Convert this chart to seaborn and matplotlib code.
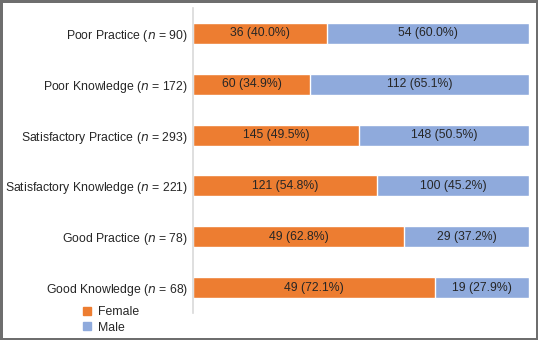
import numpy as np
import pandas as pd
import seaborn as sns
import matplotlib.pyplot as plt
from matplotlib.lines import Line2D

# ---- data ----
categories = ["Poor Practice", "Poor Knowledge", "Satisfactory Practice",
              "Satisfactory Knowledge", "Good Practice", "Good Knowledge"]
female = [36, 60, 145, 121, 49, 49]
male = [54, 112, 148, 100, 29, 19]

ORANGE = "#ED7D31"
BLUE = "#8FAADC"
TXT = "#262626"
FS = 8.8

total = np.array(female) + np.array(male)
df = pd.DataFrame({
    "cat": categories,
    "female_pct": np.array(female) / total * 100,
    "male_pct": np.array(male) / total * 100,
})
df["all"] = 100.0

sns.set_style("white")
plt.rcParams["font.family"] = ["Liberation Sans", "DejaVu Sans"]

W, H = 538, 340
fig = plt.figure(figsize=(W / 100, H / 100), dpi=100,
                 edgecolor="#6e6e6e", linewidth=2.2)
ax = fig.add_axes([193 / W, 1 - 313 / H, (529 - 193) / W, (313 - 8) / H])

sns.barplot(data=df, y="cat", x="all", color=BLUE, width=0.41,
            saturation=1, ax=ax, orient="h")
sns.barplot(data=df, y="cat", x="female_pct", color=ORANGE, width=0.41,
            saturation=1, ax=ax, orient="h")

for i in range(len(categories)):
    fp = df["female_pct"][i]
    mp = df["male_pct"][i]
    ax.text(fp / 2, i, f"{female[i]} ({fp:.1f}%)", ha="center", va="center",
            fontsize=FS, color=TXT)
    ax.text(fp + mp / 2, i, f"{male[i]} ({mp:.1f}%)", ha="center", va="center",
            fontsize=FS, color=TXT)

ax.set_xlim(0, 100)
ax.set_ylim(5.5, -0.5)
ax.set_xticks([])
ax.set_yticks(range(len(categories)))
n_labels = [f"{c} ($\\it{{n}}$ = {t})" for c, t in zip(categories, total)]
ax.set_yticklabels(n_labels, fontsize=FS, color=TXT)
ax.tick_params(axis="y", length=0, pad=3.5)
ax.set_xlabel("")
ax.set_ylabel("")
for s in ["top", "right", "bottom"]:
    ax.spines[s].set_visible(False)
ax.spines["left"].set_color("#d9d9d9")
ax.spines["left"].set_linewidth(1.2)

handles = [Line2D([], [], marker="s", ls="", color=ORANGE, markersize=6),
           Line2D([], [], marker="s", ls="", color=BLUE, markersize=6)]
fig.legend(handles, ["Female", "Male"], loc="upper left",
           bbox_to_anchor=(76 / W, 1 - 301 / H), frameon=False,
           fontsize=FS, handlelength=1.0, handletextpad=0.4,
           labelspacing=0.3, labelcolor=TXT, borderaxespad=0)

fig.savefig("out.png", dpi=100)
